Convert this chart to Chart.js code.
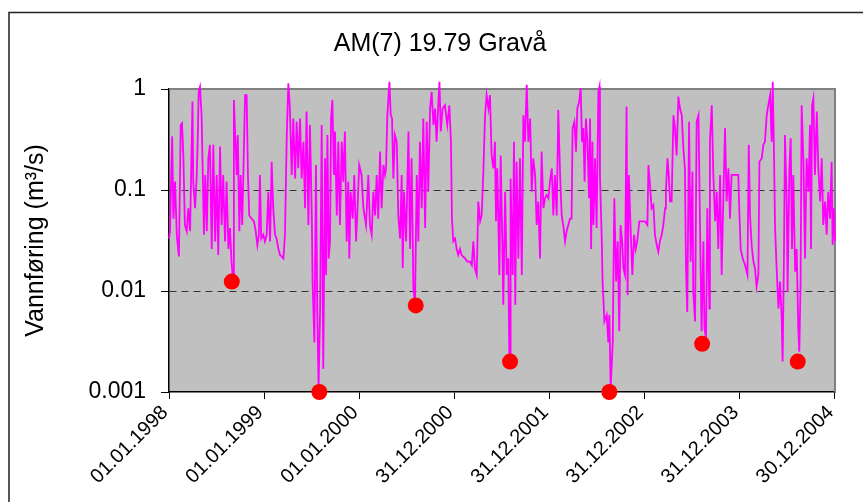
<!DOCTYPE html>
<html>
<head>
<meta charset="utf-8">
<script src="https://cdn.jsdelivr.net/npm/chart.js@4"></script>
<style>
html, body { margin: 0; padding: 0; background: #fff; }
</style>
</head>
<body>
<canvas id="myChart" width="863" height="502"></canvas>
<script>
// days since 01.01.1998, discharge (m3/s)
var days = [
  0, 4, 8, 12, 17, 23, 30, 35, 38, 45, 50, 55, 61, 68, 74, 81, 90, 93, 100, 106,
  110, 114, 119, 125, 129, 134, 139, 145, 151, 157, 164, 170, 177, 183, 189, 196, 202, 208, 215, 221,
  228, 234, 240, 246, 249, 255, 260, 264, 270, 275, 281, 288, 292, 298, 303, 308, 317, 326, 333, 339,
  345, 349, 354, 362, 368, 375, 381, 388,
  394, 400, 407, 413, 420, 426, 432, 439, 445, 452, 458, 464, 471, 477, 484, 490, 496, 503, 509, 516,
  522, 528, 535, 541, 548, 551, 558, 564, 569, 574, 580, 586, 592, 599, 603, 608, 613, 618, 622, 627,
  633, 637, 644, 650, 656, 663, 669, 675, 682, 688, 692, 697, 705, 711, 718, 723, 730, 739, 746, 756,
  765, 771,
  778, 784, 791, 797, 803, 810, 816, 823, 829, 833, 838, 846, 851, 856, 861, 867, 874, 880, 887, 893,
  897, 902, 910, 919, 925, 931, 938, 944, 951, 957, 963, 970, 976, 983, 989, 995, 1002, 1008, 1015, 1021,
  1027, 1034, 1038, 1043, 1050, 1059, 1068, 1076, 1082, 1086, 1091, 1098, 1104, 1110, 1117, 1123, 1136, 1145, 1155, 1162,
  1168,
  1174, 1181, 1187, 1194, 1200, 1206, 1213, 1219, 1226, 1232, 1238, 1245, 1251, 1255, 1260, 1268, 1273, 1278, 1283, 1290,
  1296, 1302, 1306, 1309, 1311, 1319, 1324, 1329, 1334, 1341, 1347, 1354, 1360, 1366, 1373, 1379, 1386, 1392, 1398, 1405,
  1411, 1417, 1424, 1430, 1437, 1443, 1449, 1456, 1462, 1469, 1475, 1481, 1488, 1494, 1501, 1507, 1513, 1520, 1526, 1539,
  1545, 1549, 1556, 1562, 1567, 1574, 1580, 1585, 1590, 1595, 1600, 1606, 1612, 1616, 1620, 1625, 1629, 1635, 1641, 1648,
  1652, 1654, 1661, 1664, 1671, 1680, 1686, 1690, 1695, 1703, 1709, 1716, 1722, 1728, 1733, 1739, 1744, 1750, 1756, 1760,
  1765, 1772, 1778, 1785, 1791, 1797, 1805, 1814, 1827, 1836, 1840, 1846, 1852, 1859, 1865, 1872, 1878, 1884, 1891, 1897,
  1904, 1907, 1913, 1918, 1923, 1929, 1936,
  1942, 1948, 1955, 1961, 1968, 1974, 1980, 1984, 1989, 1996, 2002, 2009, 2012, 2019, 2025, 2032, 2038, 2044, 2051, 2055,
  2061, 2066, 2074, 2076, 2083, 2089, 2096, 2102, 2108, 2115, 2121, 2128, 2134, 2140, 2147, 2153, 2159, 2172, 2185, 2189,
  2194, 2202, 2211, 2220, 2225, 2230, 2236, 2243, 2249, 2255, 2262, 2266, 2275, 2281, 2287, 2294, 2300, 2307,
  2313, 2317, 2322, 2326, 2332, 2339, 2345, 2351, 2355, 2360, 2364, 2371, 2374, 2381, 2386, 2391, 2396, 2403, 2409, 2415,
  2419, 2424, 2428, 2435, 2441, 2447, 2454, 2460, 2464, 2468, 2473, 2479, 2486, 2492, 2499, 2505, 2511, 2518, 2524, 2530,
  2537, 2543, 2547, 2552, 2556
];
var flow = [
  0.033, 0.039, 0.121, 0.34, 0.052, 0.121, 0.036, 0.026, 0.022, 0.44, 0.457, 0.22, 0.045, 0.039, 0.066, 0.039, 0.75, 0.121, 0.066, 0.13,
  0.30, 0.94, 1.05, 0.55, 0.177, 0.036, 0.141, 0.039, 0.206, 0.28, 0.026, 0.28, 0.031, 0.141, 0.0227, 0.27, 0.045, 0.141, 0.031, 0.121,
  0.026, 0.042, 0.0195, 0.0125, 0.78, 0.30, 0.141, 0.35, 0.039, 0.141, 0.045, 0.30, 0.87, 0.87, 0.141, 0.056, 0.052, 0.049, 0.039, 0.0285,
  0.036, 0.141, 0.033, 0.036, 0.031, 0.036, 0.096, 0.031,
  0.19, 0.066, 0.036, 0.033, 0.026, 0.0227, 0.022, 0.021, 0.036, 0.35, 1.14, 0.64, 0.141, 0.51, 0.13, 0.475, 0.164, 0.51, 0.13, 0.30,
  0.066, 0.60, 0.045, 0.44, 0.056, 0.0124, 0.0031, 0.177, 0.0067, 0.0011, 0.0067, 0.44, 0.0017, 0.206, 0.0144, 0.35, 0.021, 0.031, 0.51, 0.78,
  0.141, 0.38, 0.056, 0.30, 0.045, 0.30, 0.121, 0.38, 0.031, 0.121, 0.021, 0.096, 0.052, 0.141, 0.031, 0.061, 0.177, 0.141, 0.066, 0.045,
  0.141, 0.045,
  0.036, 0.096, 0.056, 0.141, 0.052, 0.24, 0.066, 0.177, 0.141, 0.164, 0.55, 1.18, 0.55, 0.51, 0.13, 0.35, 0.30, 0.056, 0.033, 0.141,
  0.0168, 0.096, 0.031, 0.38, 0.026, 0.206, 0.0106, 0.0075, 0.141, 0.031, 0.30, 0.066, 0.51, 0.042, 0.475, 0.096, 0.64, 0.94, 0.44, 0.64,
  0.30, 0.75, 1.18, 0.38, 0.64, 0.69, 0.44, 0.69, 0.30, 0.052, 0.031, 0.033, 0.026, 0.0227, 0.026, 0.0227, 0.021, 0.0195, 0.0195, 0.018,
  0.031,
  0.0168, 0.0144, 0.077, 0.049, 0.056, 0.141, 0.55, 0.87, 0.64, 0.87, 0.22, 0.164, 0.30, 0.049, 0.164, 0.0144, 0.22, 0.045, 0.0073, 0.096,
  0.0144, 0.021, 0.0025, 0.0021, 0.13, 0.0144, 0.30, 0.0073, 0.19, 0.021, 0.206, 0.0144, 0.55, 0.30, 1.10, 0.30, 0.51, 0.096, 0.206, 0.141,
  0.045, 0.077, 0.021, 0.24, 0.066, 0.083, 0.089, 0.083, 0.121, 0.164, 0.056, 0.141, 0.056, 0.62, 0.141, 0.056, 0.045, 0.031, 0.039, 0.052,
  0.052, 0.41, 0.475, 0.24, 0.64, 0.75, 1.02, 0.30, 0.41, 0.121, 0.51, 0.30, 0.083, 0.51, 0.026, 0.30, 0.045, 0.206, 0.042, 0.94,
  1.05, 0.141, 0.031, 0.0124, 0.005, 0.0058, 0.0031, 0.0058, 0.0011, 0.0031, 0.083, 0.0124, 0.031, 0.004, 0.045, 0.031, 0.0168, 0.0144, 0.67, 0.0091,
  0.141, 0.039, 0.0144, 0.036, 0.026, 0.031, 0.049, 0.049, 0.049, 0.045, 0.177, 0.112, 0.066, 0.071, 0.036, 0.0285, 0.0245, 0.031, 0.036, 0.045,
  0.066, 0.096, 0.206, 0.141, 0.077, 0.077, 0.55,
  0.41, 0.22, 0.84, 0.64, 0.55, 0.26, 0.164, 0.018, 0.0062, 0.475, 0.0195, 0.152, 0.0098, 0.005, 0.475, 0.55, 0.045, 0.004, 0.031, 0.0043,
  0.0034, 0.066, 0.0067, 0.30, 0.69, 0.141, 0.049, 0.096, 0.026, 0.141, 0.0144, 0.096, 0.41, 0.077, 0.164, 0.052, 0.141, 0.141, 0.141, 0.061,
  0.026, 0.021, 0.018, 0.0144, 0.28, 0.056, 0.0285, 0.0195, 0.0168, 0.011, 0.0144, 0.19, 0.206, 0.28, 0.30, 0.55, 0.69, 0.87,
  0.30, 1.18, 0.22, 0.042, 0.0168, 0.0067, 0.0124, 0.0058, 0.002, 0.021, 0.35, 0.066, 0.0098, 0.164, 0.325, 0.026, 0.141, 0.0155, 0.026, 0.0043,
  0.0025, 0.0124, 0.69, 0.19, 0.021, 0.206, 0.096, 0.44, 0.026, 0.69, 0.81, 0.141, 0.60, 0.164, 0.077, 0.206, 0.045, 0.077, 0.036, 0.096,
  0.052, 0.19, 0.0285, 0.066, 0.031
];

// annual minima AM(7)
var minDays = [241, 577, 947, 1309, 1690, 2046, 2413];
var minFlow = [0.0124, 0.001, 0.0072, 0.002, 0.001, 0.003, 0.002];

var tickDays = [0, 365, 730, 1095, 1460, 1825, 2190, 2555];
var tickLabels = ["01.01.1998", "01.01.1999", "01.01.2000", "31.12.2000", "31.12.2001", "31.12.2002", "31.12.2003", "30.12.2004"];
var yTicks = [1, 0.1, 0.01, 0.001];
var yTickLabels = ["1", "0.1", "0.01", "0.001"];

var FONT = "'Liberation Sans', Arial, sans-serif";

var flowPoints = days.map(function (d, i) { return { x: d, y: flow[i] }; });
var minPoints = minDays.map(function (d, i) { return { x: d, y: minFlow[i] }; });

var frame = {
  id: 'frame',
  beforeDraw: function (chart) {
    var c = chart.ctx, a = chart.chartArea;
    c.save();
    c.fillStyle = '#fff';
    c.fillRect(0, 0, chart.width, chart.height);
    c.strokeStyle = '#222';
    c.lineWidth = 1.5;
    c.beginPath();
    c.moveTo(9, chart.height);
    c.lineTo(9, 12.5);
    c.lineTo(chart.width, 12.5);
    c.stroke();
    c.fillStyle = '#C0C0C0';
    c.fillRect(a.left, a.top, a.right - a.left, a.bottom - a.top);
    c.restore();
  },
  beforeDatasetsDraw: function (chart) {
    var c = chart.ctx, a = chart.chartArea;
    c.save();
    c.strokeStyle = '#808080';
    c.lineWidth = 2;
    c.beginPath();
    c.moveTo(a.left, a.top);
    c.lineTo(a.right, a.top);
    c.lineTo(a.right, a.bottom);
    c.stroke();
    c.restore();
  }
};

var ctx = document.getElementById("myChart");

var myChart = new Chart(ctx, {
  type: 'line',
  data: {
    datasets: [{
      data: flowPoints,
      borderColor: '#FF00FF',
      borderWidth: 1.8,
      pointRadius: 0,
      fill: false,
      tension: 0,
      clip: false,
      order: 2
    }, {
      type: 'scatter',
      data: minPoints,
      backgroundColor: '#FF0000',
      borderColor: '#FF0000',
      borderWidth: 0,
      pointRadius: 8,
      clip: false,
      order: 1
    }]
  },
  options: {
    responsive: false,
    animation: false,
    devicePixelRatio: 1,
    layout: { padding: { left: 17, right: 0, top: 0, bottom: 0 } },
    plugins: {
      legend: { display: false },
      tooltip: { enabled: false },
      title: {
        display: true,
        text: 'AM(7) 19.79 Gravå',
        color: '#000',
        font: { family: FONT, size: 25, weight: 'normal' },
        padding: { top: 29, bottom: 30 }
      }
    },
    scales: {
      x: {
        type: 'linear',
        min: 0,
        max: 2556,
        afterBuildTicks: function (s) { s.ticks = tickDays.map(function (v) { return { value: v }; }); },
        afterFit: function (s) { s.height = 110; s.paddingLeft = 0; s.paddingRight = 28; },
        ticks: {
          autoSkip: false,
          maxRotation: 45,
          minRotation: 45,
          padding: 2,
          labelOffset: -4,
          color: '#000',
          font: { family: FONT, size: 20 },
          callback: function (v, i) { return tickLabels[i]; }
        },
        grid: { drawOnChartArea: false, tickColor: '#000', tickLength: 7 },
        border: { color: '#000', width: 1.5 }
      },
      y: {
        type: 'logarithmic',
        min: 0.001,
        max: 1,
        afterBuildTicks: function (s) { s.ticks = yTicks.map(function (v) { return { value: v }; }); },
        afterFit: function (s) { s.width = 152; s.paddingTop = 0; s.paddingBottom = 0; },
        ticks: {
          padding: 15,
          color: '#000',
          font: { family: FONT, size: 23 },
          callback: function (v, i) { return yTickLabels[i]; }
        },
        grid: {
          color: function (c) {
            return (c.tick && (c.tick.value === 0.1 || c.tick.value === 0.01)) ? '#333' : 'rgba(0,0,0,0)';
          },
          tickColor: '#000',
          tickLength: 8,
          lineWidth: 1
        },
        border: { color: '#000', width: 1.5, dash: [7, 5] },
        title: {
          display: true,
          text: 'Vannføring (m³/s)',
          color: '#000',
          font: { family: FONT, size: 25 },
          padding: { top: 4, bottom: 0 }
        }
      }
    }
  },
  plugins: [frame]
});
</script>
</body>
</html>
